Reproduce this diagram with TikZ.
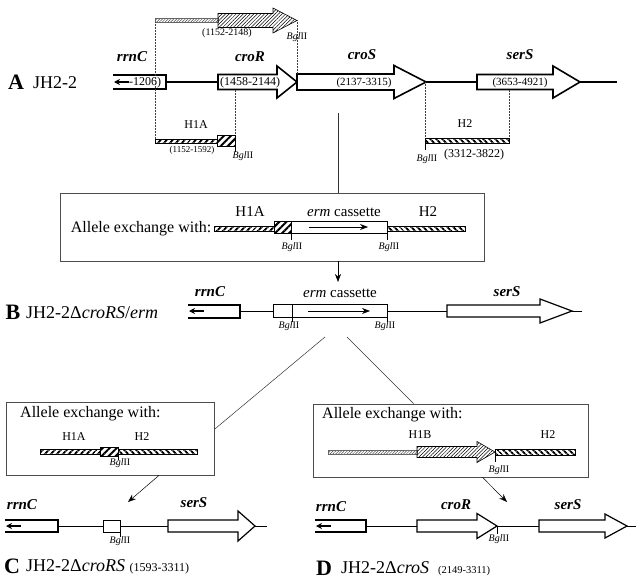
\documentclass[tikz,border=0pt]{standalone}
\usepackage{fontspec}
\setmainfont{Liberation Serif}
\usetikzlibrary{arrows.meta,patterns.meta}

\newcommand{\bglsite}{\textit{Bgl}II}
% gene arrow: [style] start, head start, tip, y, half body, half head
\newcommand{\genearrow}[7][gene]{%
  \draw[#1] (#2,{#5-#6}) -- (#3,{#5-#6}) -- (#3,{#5-#7}) -- (#4,#5)
    -- (#3,{#5+#7}) -- (#3,{#5+#6}) -- (#2,{#5+#6}) -- cycle;}
% rrnC box, open at its left end
\newcommand{\rrnbox}[4]{%
  \draw[rrnline] (#1,{#3-#4}) -- (#2,{#3-#4}) -- (#2,{#3+#4}) -- (#1,{#3+#4});
  \draw[rrnline, line width=1.2pt, -{Stealth[length=6pt,width=6pt]}] ({#1+16},#3) -- ({#1+1},#3);}

\tikzset{
  gene/.style={draw, fill=white, line width=1.6pt},
  thingene/.style={draw, fill=white, line width=1.2pt},
  rrnline/.style={line width=2pt},
  axis/.style={line width=1.3pt},
  thinaxis/.style={line width=0.6pt},
  guide/.style={densely dotted, line width=0.5pt, black!75},
  tick/.style={line width=0.5pt},
  link/.style={line width=0.5pt, black!80},
  flow/.style={line width=0.5pt, -{Stealth[length=8pt,width=6pt]}},
  xbox/.style={draw=black!70, line width=0.8pt, inner sep=0pt},
  cassette/.style={draw, fill=white, line width=0.8pt},
  lightbar/.style={draw=black!60, line width=0.3pt, pattern={Lines[angle=45,distance=2pt,line width=0.5pt]}, pattern color=black!70},
  hatcharrow/.style={draw, line width=0.6pt, pattern={Lines[angle=45,distance=2.5pt,line width=0.5pt]}},
  leftbar/.style={draw, line width=0.5pt, pattern={Lines[angle=45,distance=4pt,line width=2pt]}},
  rightbar/.style={draw, line width=0.5pt, pattern={Lines[angle=-45,distance=4pt,line width=2pt]}},
  hatchbox/.style={draw, line width=1pt, pattern={Lines[angle=45,distance=5pt,line width=2pt]}},
  panel/.style={font=\fontsize{22}{22}\selectfont\bfseries, inner sep=0pt},
  strain/.style={font=\fontsize{18}{18}\selectfont, inner sep=0pt, anchor=west},
  genename/.style={font=\fontsize{15}{15}\selectfont\bfseries\itshape, inner sep=0pt},
  span/.style={font=\fontsize{11}{11}\selectfont, inner sep=0pt},
  site/.style={font=\fontsize{10}{10}\selectfont, inner sep=0pt},
  homol/.style={font=\fontsize{12}{12}\selectfont, inner sep=0pt},
  boxtext/.style={font=\fontsize{16}{16}\selectfont, inner sep=0pt}
}

\begin{document}
\begin{tikzpicture}[x=1pt,y=-1pt]
	\useasboundingbox (0,0) rectangle (642,586);

	% A: JH2-2
	\node[panel] (panA) at (16,82) {A};
	\node[strain] (strA) at (33,83) {JH2-2};
	\draw[axis] (166,82) -- (218,82) (426,82) -- (478,82) (580,82) -- (617,82);
	\rrnbox{113}{166}{82}{7}
	\node[span, font=\fontsize{12}{12}\selectfont, anchor=west] (posrrn) at (129,82.5) {-1206)};
	\genearrow{218}{277}{297}{82}{7.5}{16}
	\genearrow{297}{394}{426}{82}{8}{16.5}
	\genearrow{477}{553}{580}{82}{7.5}{16}
	\node[genename] (rrnA) at (132,57) {rrnC};
	\node[genename] (croRA) at (250,57) {croR};
	\node[genename] (croSA) at (362,55) {croS};
	\node[genename] (serSA) at (520,55) {serS};
	\node[span, font=\fontsize{12}{12}\selectfont] (posR) at (250,82.5) {(1458-2144)};
	\node[span] (posS) at (364,83) {(2137-3315)};
	\node[span] (posser) at (520,83) {(3653-4921)};

	% H1B above
	\draw[lightbar] (155,18.5) rectangle (218,22.5);
	\genearrow[hatcharrow]{218}{273}{297}{20.5}{7}{12.5}
	\node[span, font=\fontsize{10}{10}\selectfont] (posH1B) at (227,33) {(1152-2148)};
	\node[site] (siteH1B) at (297,37) {\bglsite};

	% dotted guides
	\draw[guide] (155,22.5) -- (155,139);
	\draw[guide] (297,20.5) -- (297,74);
	\draw[guide] (235,89.5) -- (235,135);
	\draw[guide] (425,82) -- (425,138);
	\draw[guide] (509,89.5) -- (509,138);

	% H1A
	\draw[leftbar] (155,139) rectangle (217,143);
	\draw[hatchbox] (217,135) rectangle (235,146);
	\draw[tick] (235,146) -- (235,152);
	\node[homol] (hA) at (196,125) {H1A};
	\node[span, font=\fontsize{9}{9}\selectfont] (posH1A) at (192,150) {(1152-1592)};
	\node[site] (siteH1A) at (243,156) {\bglsite};

	% H2
	\draw[rightbar] (425,138) rectangle (509,143);
	\draw[tick] (425,143) -- (425,150);
	\node[homol] (hB) at (465,124) {H2};
	\node[span, font=\fontsize{12}{12}\selectfont] (posH2) at (474,155) {(3312-3822)};
	\node[site] (siteH2) at (427,159) {\bglsite};

	% first exchange
	\coordinate (dropA) at (338,113);
	\node[xbox, minimum width=424pt, minimum height=68pt] (boxone) at (272,227) {};
	\draw[link] (dropA) -- (dropA |- boxone.north);
	\node[boxtext] (txtone) at (141,229) {Allele exchange with:};
	\draw[leftbar] (214,226.5) rectangle (274,231);
	\draw[hatchbox] (274,221) rectangle (291,233);
	\draw[cassette] (291,221) rectangle (387,233);
	\draw[rightbar] (387,226.5) rectangle (465,231);
	\draw[flow, line width=0.7pt] (309,227) -- (368,227);
	\node[boxtext, font=\fontsize{15}{15}\selectfont] (hAone) at (250,212) {H1A};
	\node[boxtext, font=\fontsize{15}{15}\selectfont] (ermone) at (344,212) {\textit{erm} cassette};
	\node[boxtext, font=\fontsize{15}{15}\selectfont] (hBone) at (428,212) {H2};
	\draw[tick] (291,233) -- (291,240) (387,233) -- (387,240);
	\node[site] (siteone) at (292,247) {\bglsite};
	\node[site] (sitetwo) at (389,247) {\bglsite};
	\coordinate (tipB) at (338,282);
	\draw[flow] (tipB |- boxone.south) -- (tipB);

	% B: JH2-2 croRS/erm
	\node[panel] (panB) at (13,312) {B};
	\node[strain] (strB) at (26,313) {JH2-2Δ\textit{croRS}/\textit{erm}};
	\draw[thinaxis] (240,311) -- (273,311) (387,311) -- (447,311) (572,311) -- (582,311);
	\rrnbox{188}{240}{311}{6.5}
	\draw[cassette] (273,304.5) rectangle (292,317.5);
	\draw[cassette] (292,304.5) rectangle (387,317.5);
	\draw[flow, line width=0.7pt] (308,311) -- (370,311);
	\draw[tick] (292,317.5) -- (292,322) (387,317.5) -- (387,322);
	\genearrow[thingene]{447}{540}{572}{311}{6}{12}
	\node[genename] (rrnB) at (210,292) {rrnC};
	\node[boxtext, font=\fontsize{15}{15}\selectfont] (ermB) at (340,293) {\textit{erm} cassette};
	\node[genename] (serSB) at (507,292) {serS};
	\node[site] (siteB1) at (289,326) {\bglsite};
	\node[site] (siteB2) at (385,326) {\bglsite};
	\coordinate (splitL) at (325,337);
	\coordinate (splitR) at (347,337);

	% second exchanges
	\node[xbox, minimum width=208pt, minimum height=73pt] (boxC) at (110,438.5) {};
	\node[xbox, minimum width=275pt, minimum height=73pt] (boxD) at (450.5,440.5) {};
	\draw[link] (splitL) -- (boxC.5);
	\draw[link] (splitR) -- (boxD.135);

	% box for C
	\node[boxtext, anchor=west] (txtC) at (20,414) {Allele exchange with:};
	\node[homol] (hAC) at (74,437) {H1A};
	\node[homol] (hBC) at (142,437) {H2};
	\draw[leftbar] (40,449.5) rectangle (100,454);
	\draw[hatchbox] (100,447) rectangle (118,456);
	\draw[rightbar] (118,449.5) rectangle (197,454);
	\draw[tick] (118,456) -- (118,460);
	\node[site] (siteC) at (120,463) {\bglsite};

	% box for D
	\node[boxtext, anchor=west] (txtD) at (322,415) {Allele exchange with:};
	\node[homol] (h1BD) at (420,435) {H1B};
	\node[homol] (hBD) at (548,435) {H2};
	\draw[lightbar] (328,450) rectangle (417,454);
	\genearrow[hatcharrow]{417}{477}{495}{452}{5.5}{10.5}
	\draw[rightbar] (495,449.5) rectangle (575,455);
	\draw[tick] (495,452) -- (495,462);
	\node[site] (siteD) at (499,470) {\bglsite};

	\coordinate (tipC) at (128,502);
	\coordinate (tipD) at (507,502);
	\draw[flow] (boxC.-37) -- (tipC);
	\draw[flow] (boxD.-49) -- (tipD);

	% C: JH2-2 croRS
	\draw[thinaxis] (58,526) -- (103,526) (120,526) -- (168,526) (255,526) -- (267,526);
	\rrnbox{5}{58}{526}{6}
	\draw[cassette] (103,520) rectangle (120,532);
	\draw[tick] (120,532) -- (120,537);
	\genearrow[thingene]{168}{238}{255}{526}{6}{15}
	\node[genename] (rrnCC) at (22,505) {rrnC};
	\node[genename] (serSC) at (194,503) {serS};
	\node[site] (siteCC) at (120,541) {\bglsite};
	\node[panel] (panC) at (12,566) {C};
	\node[strain] (strC) at (26,567) {JH2-2Δ\textit{croRS} {\fontsize{12}{12}\selectfont(1593-3311)}};

	% D: JH2-2 croS
	\draw[thinaxis] (366,526) -- (417,526) (497,526) -- (539,526) (627,526) -- (636,526);
	\rrnbox{315}{366}{526}{6}
	\genearrow[thingene]{417}{477}{497}{526}{6}{12.5}
	\draw[tick] (497,526) -- (497,534);
	\genearrow[thingene]{539}{605}{627}{526}{6}{12}
	\node[genename] (rrnD) at (331,507) {rrnC};
	\node[genename] (croRD) at (456,505) {croR};
	\node[genename] (serSD) at (568,505) {serS};
	\node[site] (siteDD) at (499,539) {\bglsite};
	\node[panel] (panD) at (324,568) {D};
	\node[strain] (strD) at (341,569) {JH2-2Δ\textit{croS}\ \ {\fontsize{10.5}{10.5}\selectfont(2149-3311)}};
\end{tikzpicture}
\end{document}
